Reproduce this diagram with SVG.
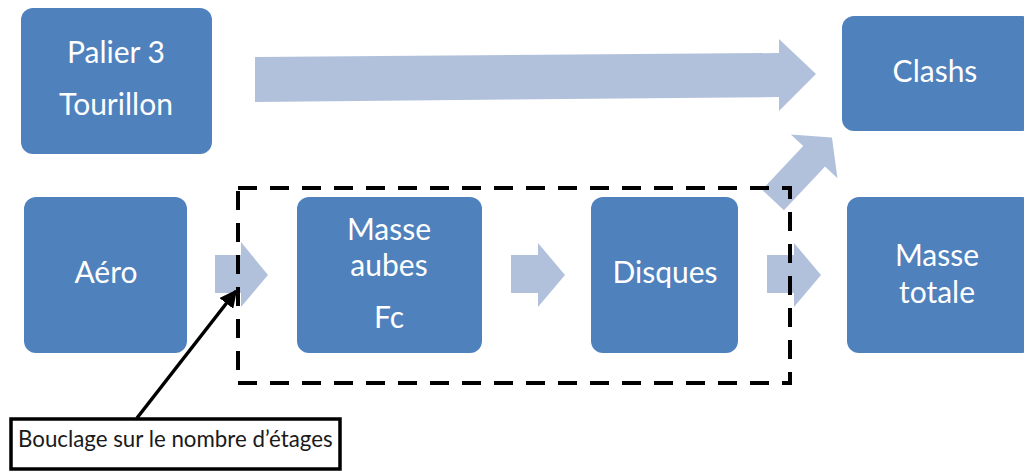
<svg xmlns="http://www.w3.org/2000/svg" width="1024" height="471" viewBox="0 0 1024 471">
<defs>
<style>
.box{fill:#4F81BD;}
.lbl{fill:#FFFFFF;font-family:Lato,"Open Sans","Liberation Sans",sans-serif;font-size:30px;text-anchor:middle;}
.flow{fill:#B1C1DC;}
.dash{fill:none;stroke:#000;stroke-width:4;stroke-dasharray:19 13;}
.note{fill:#FFFFFF;stroke:#000;stroke-width:3.5;}
.notetxt{fill:#1a1a1a;font-family:Lato,"Open Sans","Liberation Sans",sans-serif;font-size:22.3px;}
.ptr{stroke:#000;stroke-width:3.5;fill:none;}
</style>
<marker id="ah" viewBox="0 0 10 10" refX="9" refY="5" markerWidth="5" markerHeight="5" orient="auto" markerUnits="strokeWidth">
<path d="M0,0 L10,5 L0,10 z" fill="#000"/>
</marker>
</defs>
<rect width="1024" height="471" fill="#FFFFFF"/>
<g id="connectors">
<polygon class="flow" points="255,57 779,53 779,39 816,74 779,111 779,97 255,102"/>
<polygon class="flow" transform="translate(773,200) rotate(-46.7)" points="0,-15 60,-15 60,-32 86,0 60,32 60,15 0,15"/>
<polygon class="flow" points="215,255 241,255 241,242 268,275 241,307 241,293 215,293"/>
<polygon class="flow" points="511,255 538,255 538,243 565,275 538,307 538,293 511,293"/>
<polygon class="flow" points="767,255 794,255 794,243 821,275 794,307 794,293 767,293"/>
</g>
<g id="palier">
<rect class="box" x="21" y="8" width="191" height="146" rx="12"/>
<text class="lbl" x="116" y="63">Palier 3</text>
<text class="lbl" x="116" y="115">Tourillon</text>
</g>
<g id="clashs">
<rect class="box" x="842" y="16" width="192" height="115" rx="12"/>
<text class="lbl" x="935" y="82">Clashs</text>
</g>
<g id="aero">
<rect class="box" x="24" y="197" width="163" height="156" rx="12"/>
<text class="lbl" x="106" y="283">Aéro</text>
</g>
<g id="masse-aubes">
<rect class="box" x="297" y="197" width="185" height="156" rx="12"/>
<text class="lbl" x="389" y="240">Masse</text>
<text class="lbl" x="389" y="276">aubes</text>
<text class="lbl" x="389" y="328">Fc</text>
</g>
<g id="disques">
<rect class="box" x="591" y="197" width="147" height="156" rx="12"/>
<text class="lbl" x="665" y="283">Disques</text>
</g>
<g id="masse-totale">
<rect class="box" x="847" y="197" width="187" height="156" rx="12"/>
<text class="lbl" x="937" y="266">Masse</text>
<text class="lbl" x="937" y="303">totale</text>
</g>
<g id="boucle">
<rect class="dash" x="238" y="188" width="552" height="195"/>
</g>
<g id="annotation">
<rect class="note" x="11" y="419" width="329" height="50"/>
<text class="notetxt" x="18" y="447">Bouclage sur le nombre d’étages</text>
<line class="ptr" x1="137" y1="418" x2="236" y2="291" marker-end="url(#ah)"/>
</g>
</svg>
